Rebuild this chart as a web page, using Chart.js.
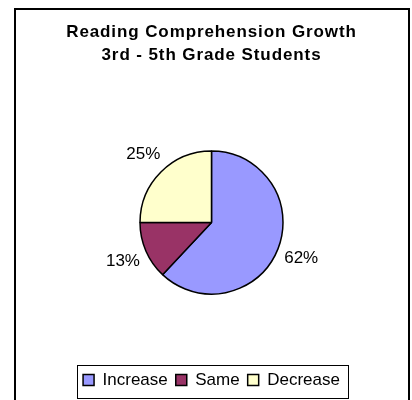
<!DOCTYPE html>
<html>
<head>
<meta charset="utf-8">
<script src="https://cdn.jsdelivr.net/npm/chart.js@4/dist/chart.umd.min.js"></script>
<style>
html,body{margin:0;padding:0;background:#fff;}
#wrap{width:412px;height:400px;position:relative;}
</style>
</head>
<body>
<div id="wrap"><canvas id="c" width="412" height="400"></canvas></div>
<script>
const categories = ["Increase", "Same", "Decrease"];
const values = [62, 13, 25];
const valueLabels = ["62%", "13%", "25%"];
const colors = ["#9999FF", "#993366", "#FFFFCC"];
const titleLines = ["Reading Comprehension Growth", "3rd - 5th Grade Students"];

const FONT = "'Liberation Sans', Arial, Helvetica, sans-serif";

const frame = {
  id: 'frame',
  beforeDraw(chart) {
    const ctx = chart.ctx;
    ctx.save();
    ctx.fillStyle = '#fff';
    ctx.fillRect(0, 0, chart.width, chart.height);
    ctx.strokeStyle = '#000';
    ctx.lineWidth = 2;
    ctx.strokeRect(15, 9, 394, 400);
    ctx.restore();
  },
  afterDraw(chart) {
    const lg = chart.legend;
    if (!lg || !lg.legendHitBoxes || !lg.legendHitBoxes.length) return;
    const hb = lg.legendHitBoxes;
    let l = Infinity, r = -Infinity;
    hb.forEach(b => { l = Math.min(l, b.left); r = Math.max(r, b.left + b.width); });
    const ctx = chart.ctx;
    ctx.save();
    ctx.strokeStyle = '#000';
    ctx.lineWidth = 1;
    ctx.strokeRect(Math.round(l - 6) + 0.5, 365.5, Math.round(r - l + 14), 33);
    ctx.restore();
  }
};

const sliceLabels = {
  id: 'sliceLabels',
  afterDatasetsDraw(chart) {
    const ctx = chart.ctx;
    const meta = chart.getDatasetMeta(0);
    ctx.save();
    ctx.font = "17px " + FONT;
    ctx.fillStyle = '#000';
    ctx.textAlign = 'center';
    ctx.textBaseline = 'middle';
    meta.data.forEach((arc, i) => {
      const p = arc.getProps(['x', 'y', 'startAngle', 'endAngle', 'outerRadius'], true);
      const mid = (p.startAngle + p.endAngle) / 2;
      const rr = p.outerRadius + 25;
      ctx.fillText(valueLabels[i], p.x + Math.cos(mid) * rr, p.y + Math.sin(mid) * rr);
    });
    ctx.restore();
  }
};

const chart = new Chart(document.getElementById('c'), {
  type: 'pie',
  data: {
    labels: categories,
    datasets: [{
      data: values,
      backgroundColor: colors,
      borderColor: '#000',
      borderWidth: 1.5
    }]
  },
  plugins: [frame, sliceLabels],
  options: {
    responsive: false,
    animation: false,
    devicePixelRatio: 1,
    radius: 71.5,
    layout: { padding: { left: 11, right: 0, top: 0, bottom: 1.5 } },
    plugins: {
      tooltip: { enabled: false },
      title: {
        display: true,
        text: titleLines,
        color: '#000',
        font: { family: FONT, size: 17, weight: 'bold', lineHeight: 1.4 },
        padding: { top: 20, bottom: 14 }
      },
      legend: {
        display: true,
        position: 'bottom',
        labels: {
          color: '#000',
          font: { family: FONT, size: 17 },
          boxWidth: 11,
          boxHeight: 11,
          padding: 8
        }
      }
    }
  }
});

// Excel-style wider tracking for the title text
if (chart.titleBlock) {
  const origDraw = chart.titleBlock.draw;
  chart.titleBlock.draw = function () {
    const ctx = this.ctx;
    const prev = ctx.letterSpacing;
    ctx.letterSpacing = '0.9px';
    origDraw.apply(this, arguments);
    ctx.letterSpacing = prev || '0px';
  };
  chart.draw();
}
</script>
</body>
</html>
